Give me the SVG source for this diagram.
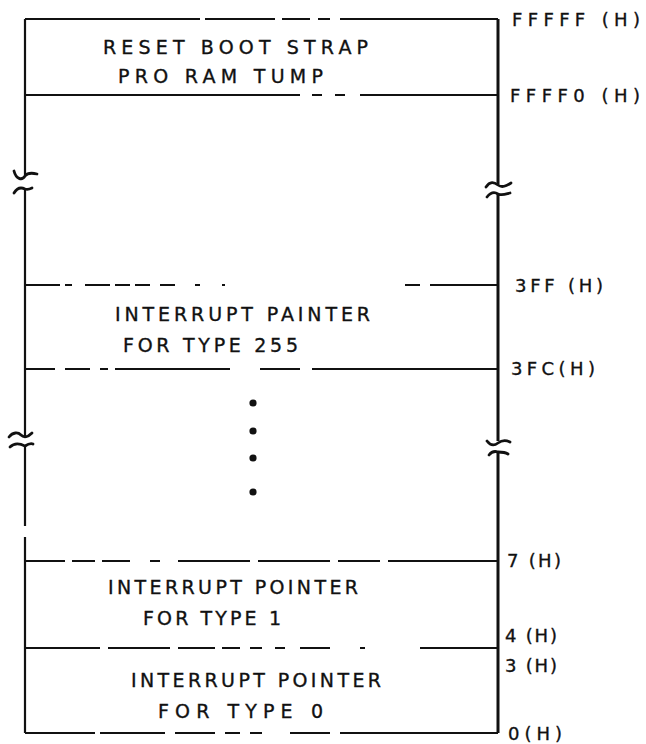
<svg xmlns="http://www.w3.org/2000/svg" width="646" height="744" viewBox="0 0 646 744">
<style>
.t{font-family:"DejaVu Sans","Liberation Sans",sans-serif;font-size:19px;fill:#111;stroke:#111;stroke-width:0.35}
.l{font-family:"DejaVu Sans","Liberation Sans",sans-serif;font-size:18px;fill:#111;stroke:#111;stroke-width:0.35}
.h{fill:none;stroke:#111;stroke-width:2}
.v{fill:none;stroke:#111;stroke-width:2.2}
.vr{fill:none;stroke:#111;stroke-width:3}
.brk{fill:none;stroke:#111;stroke-width:2.8;stroke-linecap:round}
.dot{fill:#111}
</style>
<rect width="646" height="744" fill="#fff"/>
<g id="frame">
<path class="v" d="M25,19 V175 M25,189 V436 M25,446 V526 M25,537 V733"/>
<path class="vr" d="M498,19 V184 M498,194 V441 M498,452 V733"/>
<path class="brk" d="M14,171 C16,179 22,181 25,176 C28,172 33,173 37,174"/>
<path class="brk" d="M14,193 C17,188 21,187 25,189 C28,190 30,189 32,188"/>
<path class="brk" d="M486,187 C490,181 494,182 498,185 C502,188 506,186 511,183"/>
<path class="brk" d="M487,197 C491,192 495,192 498,194 C502,196 506,194 510,193"/>
<path class="brk" d="M9,437 C13,432 18,432 21,435 C24,438 28,437 32,433"/>
<path class="brk" d="M10,447 C14,443 19,443 25,446 C28,444 31,443 33,444"/>
<path class="brk" d="M487,441 C490,445 494,446 498,443 C502,440 506,440 510,442"/>
<path class="brk" d="M489,455 C492,451 495,451 498,452 C502,452 505,452 508,454"/>
</g>
<g id="region-reset">
<path class="h" d="M25,19 H200 M205,19 H275 M282,19 H310 M318,19 H330 M340,19 H498"/>
<text class="t" x="103" y="54" textLength="265" lengthAdjust="spacing">RESET BOOT STRAP</text>
<text class="t" x="118" y="83" textLength="205" lengthAdjust="spacing">PRO RAM TUMP</text>
<path class="h" d="M25,95 H300 M312,95 H322 M335,95 H345 M360,95 H498"/>
<text class="l" x="512" y="26" textLength="128" lengthAdjust="spacing">FFFFF (H)</text>
<text class="l" x="510" y="102" textLength="130" lengthAdjust="spacing">FFFF0 (H)</text>
</g>
<g id="region-type255">
<path class="h" d="M25,285 H60 M65,285 H72 M85,285 H110 M115,285 H130 M135,285 H150 M160,285 H175 M195,285 H200 M222,285 H225 M405,285 H420 M430,285 H498"/>
<text class="t" x="115" y="321" textLength="255" lengthAdjust="spacing">INTERRUPT PAINTER</text>
<text class="t" x="123" y="352" textLength="175" lengthAdjust="spacing">FOR TYPE 255</text>
<path class="h" d="M25,369 H55 M65,369 H90 M100,369 H108 M115,369 H230 M260,369 H300 M312,369 H498"/>
<text class="l" x="515" y="292" textLength="88" lengthAdjust="spacing">3FF (H)</text>
<text class="l" x="511" y="375" textLength="84" lengthAdjust="spacing">3FC(H)</text>
</g>
<g id="ellipsis">
<circle class="dot" cx="253" cy="403" r="3.6"/>
<circle class="dot" cx="253" cy="431" r="3.6"/>
<circle class="dot" cx="253" cy="458" r="3.6"/>
<circle class="dot" cx="253" cy="492" r="3.6"/>
</g>
<g id="region-type1">
<path class="h" d="M25,561 H65 M72,561 H95 M102,561 H130 M150,561 H160 M178,561 H250 M258,561 H330 M338,561 H380 M388,561 H498"/>
<text class="t" x="108" y="594" textLength="250" lengthAdjust="spacing">INTERRUPT POINTER</text>
<text class="t" x="143" y="625" textLength="138" lengthAdjust="spacing">FOR TYPE 1</text>
<text class="l" x="507" y="567" textLength="54" lengthAdjust="spacing">7 (H)</text>
<text class="l" x="505" y="642" textLength="52" lengthAdjust="spacing">4 (H)</text>
</g>
<g id="region-type0">
<path class="h" d="M25,648 H100 M108,648 H170 M178,648 H215 M222,648 H240 M250,648 H262 M275,648 H285 M300,648 H330 M360,648 H365 M420,648 H498"/>
<text class="t" x="131" y="687" textLength="250" lengthAdjust="spacing">INTERRUPT POINTER</text>
<text class="t" x="158" y="718" textLength="165" lengthAdjust="spacing">FOR TYPE 0</text>
<path class="h" d="M25,733 H95 M100,733 H165 M175,733 H215 M225,733 H240 M250,733 H262 M290,733 H330 M340,733 H498"/>
<text class="l" x="505" y="672" textLength="52" lengthAdjust="spacing">3 (H)</text>
<text class="l" x="508" y="740" textLength="54" lengthAdjust="spacing">0(H)</text>
</g>
</svg>
